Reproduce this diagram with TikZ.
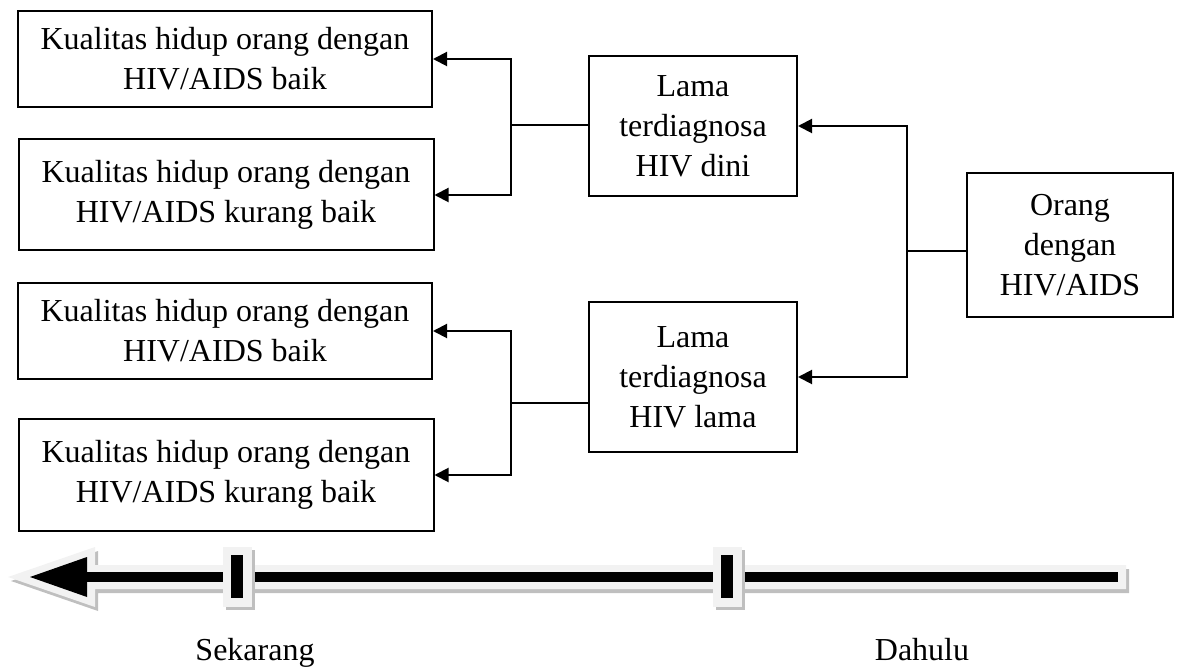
\documentclass[tikz,border=0pt]{standalone}
\usepackage{fontspec}
\setmainfont{Liberation Serif}
\usetikzlibrary{arrows.meta}
\definecolor{lightfill}{HTML}{F2F2F2}
\definecolor{shadowgray}{HTML}{BFBFBF}
\begin{document}
\begin{tikzpicture}[x=1pt,y=-1pt,
  box/.style={draw,line width=2pt,inner sep=0pt,align=center,
    font=\fontsize{32}{40}\selectfont},
  leftbox/.style={box,minimum width=414pt,minimum height=96pt},
  leftbox2/.style={box,minimum width=415pt,minimum height=111pt},
  midbox/.style={box,minimum width=208pt,minimum height=140pt},
  conn/.style={line width=2pt},
  arr/.style={conn,-{Triangle[length=14pt,width=14pt]}},
  lbl/.style={font=\fontsize{32}{40}\selectfont,inner sep=0pt,anchor=base}]
\useasboundingbox (0,0) rectangle (1179,668);

% boxes
\node[leftbox]  (b1) at (225,59)    {Kualitas hidup orang dengan\\HIV/AIDS baik};
\node[leftbox2] (b2) at (226,195)   {Kualitas hidup orang dengan\\HIV/AIDS kurang baik};
\node[leftbox]  (b3) at (225,331)   {Kualitas hidup orang dengan\\HIV/AIDS baik};
\node[leftbox2] (b4) at (226,475)   {Kualitas hidup orang dengan\\HIV/AIDS kurang baik};
\node[midbox]   (m1) at (693,126)   {Lama\\terdiagnosa\\HIV dini};
\node[midbox,minimum height=150pt] (m2) at (693,377) {Lama\\terdiagnosa\\HIV lama};
\node[box,minimum width=206pt,minimum height=144pt] (r) at (1070,245) {Orang\\dengan\\HIV/AIDS};

% connectors
\coordinate (j1) at (511,125);
\coordinate (j2) at (511,403);
\coordinate (j3) at (907,251);
\draw[conn] (m1.west |- j1) -- (j1);
\draw[arr] (j1) |- (b1.east);
\draw[arr] (j1) |- (b2.east);
\draw[conn] (m2.west |- j2) -- (j2);
\draw[arr] (j2) |- (b3.east);
\draw[arr] (j2) |- (b4.east);
\draw[conn] (r.west |- j3) -- (j3);
\draw[arr] (j3) |- (m1.east);
\draw[arr] (j3) |- (m2.east);

% timeline arrow
\fill[shadowgray] (11,581) -- (98,551) -- (98,569) -- (1129,569) -- (1129,593)
  -- (98,593) -- (98,611) -- cycle;
\fill[lightfill] (8,577) -- (95,547) -- (95,565) -- (1126,565) -- (1126,589)
  -- (95,589) -- (95,607) -- cycle;
\fill[black] (30,577) -- (87,557) -- (87,597) -- cycle;
\fill[black] (86,572) rectangle (1118,582);

% ticks
\fill[shadowgray] (226,550) rectangle (255,610);
\fill[lightfill] (223,547) rectangle (252,607);
\fill[black] (231,555) rectangle (243,598);
\fill[shadowgray] (716,550) rectangle (745,610);
\fill[lightfill] (713,547) rectangle (742,607);
\fill[black] (721,555) rectangle (733,598);

% labels
\node[lbl] (now) at (255,660) {Sekarang};
\node[lbl] (past) at (922,660) {Dahulu};
\end{tikzpicture}
\end{document}
